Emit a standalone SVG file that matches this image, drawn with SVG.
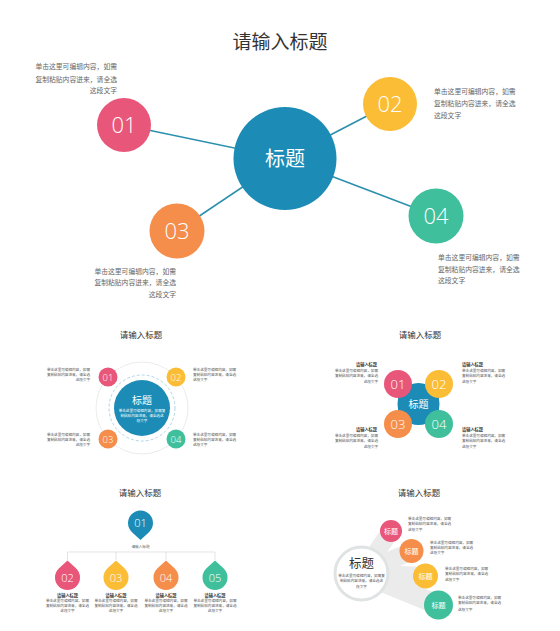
<svg xmlns="http://www.w3.org/2000/svg" width="560" height="631" viewBox="0 0 560 631">
<style>
text{font-family:"Noto Sans CJK SC","Liberation Sans",sans-serif}
.ttl{font-size:19px;fill:#333;text-anchor:middle}
.sttl{font-size:8.5px;fill:#333;text-anchor:middle}
.num{font-family:"Open Sans","Liberation Sans",sans-serif;font-weight:300;fill:#fff;text-anchor:middle}
.desc{font-size:6.8px;fill:#666}
.tiny{font-size:3.6px;fill:#555}
.tinyw{font-size:3.6px;fill:#fff;text-anchor:middle}
.lbl{font-size:4.2px;fill:#333;font-weight:bold}
.end{text-anchor:end}
.mid{text-anchor:middle}
.link{stroke:#2b8fae;stroke-width:1.6}
.pink{fill:#e8577a}.yel{fill:#fbbd35}.ora{fill:#f58d4b}.grn{fill:#3fbf9c}.blu{fill:#1c8cb6}
.wedge{fill:#ebebeb}
</style>
<defs>
<path id="drop" d="M0,17 L8.48,9.19 A12.5,12.5 0 1 0 -8.48,9.19 Z"/>
</defs>
<text class="ttl" x="280" y="49">请输入标题</text>

<g id="connectors">
<line class="link" x1="285" y1="158.5" x2="124" y2="125"/>
<line class="link" x1="285" y1="158.5" x2="390" y2="104"/>
<line class="link" x1="285" y1="158.5" x2="177" y2="231"/>
<line class="link" x1="285" y1="158.5" x2="436" y2="216"/>
</g>
<g id="center"><circle class="blu" cx="285" cy="158.5" r="51.5"/><text x="285" y="166" font-size="20" fill="#fff" text-anchor="middle">标题</text></g>
<g id="n01"><circle class="pink" cx="124" cy="125" r="27"/><text class="num" x="124" y="133" font-size="22">01</text>
<text class="desc end" x="117" y="69">单击这里可编辑内容，如需</text><text class="desc end" x="117" y="81.5">复制粘贴内容进来，请全选</text><text class="desc end" x="117" y="93">这段文字</text></g>
<g id="n02"><circle class="yel" cx="390" cy="104" r="27"/><text class="num" x="390" y="112" font-size="22">02</text>
<text class="desc" x="434" y="94">单击这里可编辑内容，如需</text><text class="desc" x="434" y="106">复制粘贴内容进来，请全选</text><text class="desc" x="434" y="118">这段文字</text></g>
<g id="n03"><circle class="ora" cx="177" cy="231" r="27.5"/><text class="num" x="177" y="239" font-size="22">03</text>
<text class="desc end" x="176" y="273.5">单击这里可编辑内容，如需</text><text class="desc end" x="176" y="285">复制粘贴内容进来，请全选</text><text class="desc end" x="176" y="297">这段文字</text></g>
<g id="n04"><circle class="grn" cx="436" cy="216" r="27.5"/><text class="num" x="436" y="224" font-size="22">04</text>
<text class="desc" x="438" y="260">单击这里可编辑内容，如需</text><text class="desc" x="438" y="271.5">复制粘贴内容进来，请全选</text><text class="desc" x="438" y="283">这段文字</text></g>

<!-- Sub 1 -->
<g id="sub1">
<text class="sttl" x="141" y="338">请输入标题</text>
<circle cx="142" cy="408" r="46" fill="none" stroke="#e6e6e6" stroke-width="0.8"/>
<circle cx="142" cy="408" r="33" fill="none" stroke="#8fc3d8" stroke-width="0.7" stroke-dasharray="3 2"/>
<circle class="blu" cx="142" cy="408" r="28"/>
<text x="142" y="404" font-size="10" fill="#fff" text-anchor="middle">标题</text>
<text class="tinyw" x="142" y="412">单击这里可编辑内容，如需复</text><text class="tinyw" x="142" y="417">制粘贴内容进来，请全选这</text><text class="tinyw" x="142" y="422">段文字</text>
<circle class="pink" cx="108" cy="377" r="9.5"/><text class="num" x="108" y="380.5" font-size="9.5">01</text>
<circle class="yel" cx="176" cy="377" r="9.5"/><text class="num" x="176" y="380.5" font-size="9.5">02</text>
<circle class="ora" cx="108" cy="439" r="9.5"/><text class="num" x="108" y="442.5" font-size="9.5">03</text>
<circle class="grn" cx="176" cy="439" r="9.5"/><text class="num" x="176" y="442.5" font-size="9.5">04</text>
<text class="tiny end" x="90" y="371">单击这里可编辑内容，如需</text><text class="tiny end" x="90" y="376">复制粘贴内容进来，请全选</text><text class="tiny end" x="90" y="381">这段文字</text>
<text class="tiny" x="193" y="371">单击这里可编辑内容，如需</text><text class="tiny" x="193" y="376">复制粘贴内容进来，请全选</text><text class="tiny" x="193" y="381">这段文字</text>
<text class="tiny end" x="90" y="436">单击这里可编辑内容，如需</text><text class="tiny end" x="90" y="441">复制粘贴内容进来，请全选</text><text class="tiny end" x="90" y="446">这段文字</text>
<text class="tiny" x="193" y="436">单击这里可编辑内容，如需</text><text class="tiny" x="193" y="441">复制粘贴内容进来，请全选</text><text class="tiny" x="193" y="446">这段文字</text>
</g>

<!-- Sub 2 -->
<g id="sub2">
<text class="sttl" x="420" y="338">请输入标题</text>
<rect class="blu" x="398" y="384" width="41" height="40" rx="16"/>
<circle class="blu" cx="418.5" cy="404" r="21"/>
<circle class="pink" cx="398" cy="384" r="14"/><text class="num" x="398" y="389" font-size="13">01</text>
<circle class="yel" cx="439" cy="384" r="14"/><text class="num" x="439" y="389" font-size="13">02</text>
<circle class="ora" cx="398" cy="424" r="14"/><text class="num" x="398" y="429" font-size="13">03</text>
<circle class="grn" cx="439" cy="424" r="14"/><text class="num" x="439" y="429" font-size="13">04</text>
<text x="418.5" y="408" font-size="10" fill="#fff" text-anchor="middle">标题</text>
<text class="lbl end" x="377" y="365.5">请输入标题</text>
<text class="tiny end" x="378" y="372">单击这里可编辑内容，如需</text><text class="tiny end" x="378" y="377">复制粘贴内容进来，请全选</text><text class="tiny end" x="378" y="383">这段文字</text>
<text class="lbl" x="462" y="365.5">请输入标题</text>
<text class="tiny" x="462" y="372">单击这里可编辑内容，如需</text><text class="tiny" x="462" y="377">复制粘贴内容进来，请全选</text><text class="tiny" x="462" y="383">这段文字</text>
<text class="lbl end" x="377" y="430.5">请输入标题</text>
<text class="tiny end" x="378" y="436.5">单击这里可编辑内容，如需</text><text class="tiny end" x="378" y="441.5">复制粘贴内容进来，请全选</text><text class="tiny end" x="378" y="447.5">这段文字</text>
<text class="lbl" x="462" y="430.5">请输入标题</text>
<text class="tiny" x="462" y="436.5">单击这里可编辑内容，如需</text><text class="tiny" x="462" y="441.5">复制粘贴内容进来，请全选</text><text class="tiny" x="462" y="447.5">这段文字</text>
</g>

<!-- Sub 3 -->
<g id="sub3">
<text class="sttl" x="140" y="496">请输入标题</text>
<g fill="none" stroke="#d8d8d8" stroke-width="0.7">
<line x1="67.5" y1="552" x2="215" y2="552"/>
<line x1="67.5" y1="552" x2="67.5" y2="560"/>
<line x1="116" y1="552" x2="116" y2="560"/>
<line x1="166" y1="552" x2="166" y2="560"/>
<line x1="215" y1="552" x2="215" y2="560"/>
</g>
<use href="#drop" class="blu" transform="translate(140.5,523)"/><text class="num" x="140.5" y="527" font-size="11">01</text>
<text class="tiny mid" x="140.5" y="548">请输入标题</text>
<use href="#drop" class="pink" transform="translate(67.5,577.5) scale(1,-1)"/><text class="num" x="67.5" y="581.5" font-size="11">02</text>
<use href="#drop" class="yel" transform="translate(116,577.5) scale(1,-1)"/><text class="num" x="116" y="581.5" font-size="11">03</text>
<use href="#drop" class="ora" transform="translate(166,577.5) scale(1,-1)"/><text class="num" x="166" y="581.5" font-size="11">04</text>
<use href="#drop" class="grn" transform="translate(215,577.5) scale(1,-1)"/><text class="num" x="215" y="581.5" font-size="11">05</text>
<g class="mid">
<text class="lbl mid" x="67.5" y="597">请输入标题</text><text class="tiny mid" x="67.5" y="602">单击这里可编辑内容，如需</text><text class="tiny mid" x="67.5" y="607">复制粘贴内容进来，请全选</text><text class="tiny mid" x="67.5" y="612">这段文字</text>
<text class="lbl mid" x="116" y="597">请输入标题</text><text class="tiny mid" x="116" y="602">单击这里可编辑内容，如需</text><text class="tiny mid" x="116" y="607">复制粘贴内容进来，请全选</text><text class="tiny mid" x="116" y="612">这段文字</text>
<text class="lbl mid" x="166" y="597">请输入标题</text><text class="tiny mid" x="166" y="602">单击这里可编辑内容，如需</text><text class="tiny mid" x="166" y="607">复制粘贴内容进来，请全选</text><text class="tiny mid" x="166" y="612">这段文字</text>
<text class="lbl mid" x="215" y="597">请输入标题</text><text class="tiny mid" x="215" y="602">单击这里可编辑内容，如需</text><text class="tiny mid" x="215" y="607">复制粘贴内容进来，请全选</text><text class="tiny mid" x="215" y="612">这段文字</text>
</g>
</g>

<!-- Sub 4 -->
<g id="sub4">
<text class="sttl" x="419" y="496">请输入标题</text>
<polygon class="wedge" points="365.6,551.9 383.6,525.9 398.4,536.1 380.4,562.1"/>
<polygon class="wedge" points="376,557.1 407.8,542.8 415.2,559.2 383.4,573.5"/>
<polygon class="wedge" points="381.9,565.3 425.9,567 425.1,585 381.1,583.3"/>
<polygon class="wedge" points="383.8,571.8 442.3,595.8 434.7,614.3 376.2,590.3"/>
<circle cx="361.5" cy="573.5" r="26.5" fill="#fff" stroke="#dfe3e3" stroke-width="3"/>
<text x="361.5" y="568" font-size="12.5" fill="#333" text-anchor="middle">标题</text>
<text class="tiny mid" x="361.5" y="577">单击这里可编辑内容，如需复</text><text class="tiny mid" x="361.5" y="582">制粘贴内容进来，请全选这</text><text class="tiny mid" x="361.5" y="588">段文字</text>
<circle class="pink" cx="391" cy="531" r="11"/><text x="391" y="533.5" font-size="7" fill="#fff" text-anchor="middle">标题</text>
<circle class="ora" cx="411.5" cy="551" r="12"/><text x="411.5" y="553.5" font-size="7" fill="#fff" text-anchor="middle">标题</text>
<circle class="yel" cx="425.5" cy="576" r="12.5"/><text x="425.5" y="578.5" font-size="7" fill="#fff" text-anchor="middle">标题</text>
<circle class="grn" cx="438.5" cy="605" r="14.5"/><text x="438.5" y="607.5" font-size="7" fill="#fff" text-anchor="middle">标题</text>
<text class="tiny" x="408" y="520">单击这里可编辑内容，如需</text><text class="tiny" x="408" y="525">复制粘贴内容进来，请全选</text><text class="tiny" x="408" y="531">这段文字</text>
<text class="tiny" x="430" y="544">单击这里可编辑内容，如需</text><text class="tiny" x="430" y="549">复制粘贴内容进来，请全选</text><text class="tiny" x="430" y="554">这段文字</text>
<text class="tiny" x="445" y="570">单击这里可编辑内容，如需</text><text class="tiny" x="445" y="575">复制粘贴内容进来，请全选</text><text class="tiny" x="445" y="581">这段文字</text>
<text class="tiny" x="458" y="599">单击这里可编辑内容，如需</text><text class="tiny" x="458" y="604">复制粘贴内容进来，请全选</text><text class="tiny" x="458" y="611">这段文字</text>
</g>
</svg>
